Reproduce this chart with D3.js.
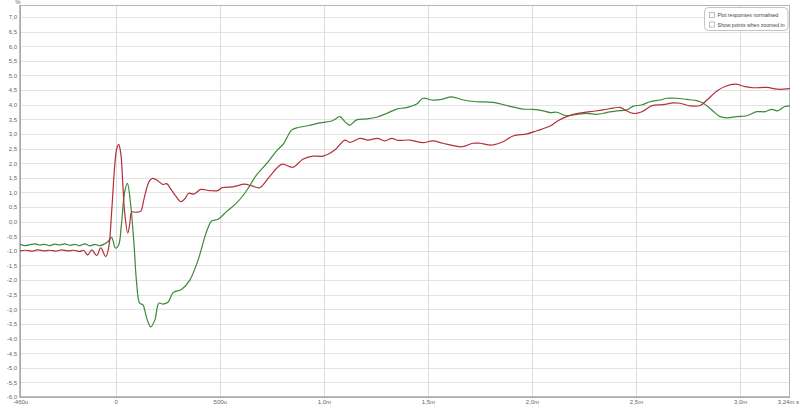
<!DOCTYPE html>
<html><head><meta charset="utf-8">
<script src="https://cdn.jsdelivr.net/npm/d3@7"></script>
<style>
html,body{margin:0;padding:0;background:#fff;}
svg{display:block;font-family:"Liberation Sans",Arial,sans-serif;}
</style></head><body>
<svg id="c" width="800" height="408"></svg>
<script>
// time in microseconds, values in %
const redT = [-460,-433,-404,-375,-346,-317,-288,-260,-231,-202,-173,-154,-135,-115,-91,-72,-48,-34,-19,-5,5,14,24,34,43,58,67,77,96,120,135,149,163,178,202,226,245,264,288,313,332,351,375,409,452,490,510,563,620,654,692,740,798,851,899,947,995,1053,1101,1125,1173,1212,1260,1293,1327,1356,1414,1476,1524,1572,1664,1716,1750,1808,1861,1909,1976,2024,2087,2125,2173,2221,2279,2341,2390,2423,2447,2486,2529,2577,2630,2678,2712,2760,2808,2841,2889,2928,2976,3024,3063,3130,3178,3226,3240];
const redV = [-1.00,-0.98,-1.01,-0.97,-1.00,-0.98,-1.01,-0.97,-1.00,-0.98,-1.02,-0.99,-1.14,-0.97,-1.16,-0.90,-1.20,-0.90,0.40,1.90,2.50,2.64,2.35,1.30,0.30,-0.39,-0.10,0.33,0.32,0.36,0.75,1.15,1.40,1.48,1.40,1.27,1.30,1.12,0.88,0.68,0.78,0.97,0.94,1.10,1.06,1.06,1.16,1.19,1.28,1.22,1.16,1.55,1.96,1.86,2.13,2.24,2.24,2.45,2.79,2.71,2.85,2.79,2.85,2.76,2.85,2.78,2.79,2.70,2.76,2.68,2.56,2.68,2.68,2.62,2.73,2.93,3.00,3.11,3.27,3.45,3.61,3.70,3.76,3.82,3.88,3.91,3.82,3.70,3.76,3.97,4.00,4.06,4.05,3.96,3.97,4.16,4.47,4.62,4.70,4.62,4.58,4.59,4.53,4.54,4.56];

const greenT = [-460,-437,-413,-389,-365,-341,-317,-293,-269,-245,-221,-197,-173,-149,-125,-101,-77,-58,-38,-20,-1,14,27,43,56,72,88,100,115,131,139,152,168,188,207,227,251,276,316,356,396,428,443,460,492,532,580,620,639,676,725,773,808,845,877,925,981,1037,1053,1077,1101,1125,1157,1205,1253,1302,1350,1398,1446,1477,1518,1566,1614,1670,1734,1814,1886,1958,2006,2054,2087,2119,2167,2215,2263,2311,2359,2407,2455,2487,2527,2568,2616,2648,2696,2744,2792,2824,2864,2904,2936,2984,3032,3080,3120,3152,3180,3212,3240];
const greenV = [-0.78,-0.82,-0.79,-0.76,-0.80,-0.78,-0.82,-0.77,-0.80,-0.76,-0.81,-0.78,-0.82,-0.76,-0.83,-0.78,-0.82,-0.78,-0.69,-0.54,-0.91,-0.80,-0.12,1.02,1.31,0.57,-0.80,-2.06,-2.79,-2.85,-3.02,-3.37,-3.60,-3.37,-2.79,-2.82,-2.76,-2.43,-2.32,-2.00,-1.31,-0.52,-0.22,0.02,0.08,0.34,0.63,0.97,1.17,1.59,1.98,2.42,2.68,3.13,3.22,3.28,3.38,3.44,3.50,3.59,3.42,3.30,3.48,3.51,3.57,3.70,3.85,3.90,4.02,4.22,4.16,4.18,4.27,4.16,4.10,4.08,3.96,3.85,3.84,3.79,3.73,3.74,3.62,3.67,3.70,3.67,3.73,3.79,3.82,3.95,3.99,4.10,4.16,4.22,4.22,4.18,4.14,4.05,3.82,3.59,3.55,3.59,3.62,3.76,3.76,3.84,3.79,3.93,3.96];

const yTicks = [-6,-5.5,-5,-4.5,-4,-3.5,-3,-2.5,-2,-1.5,-1,-0.5,0,0.5,1,1.5,2,2.5,3,3.5,4,4.5,5,5.5,6,6.5,7];
const xTicks = [-460,0,500,1000,1500,2000,2500,3000,3240];
const xTickLabels = ["-460u","0","500u","1,0m","1,5m","2,0m","2,5m","3,0m","3,24m s"];
const xGrid = [0,500,1000,1500,2000,2500,3000];
const legendItems = ["Plot responses normalised","Show points when zoomed in"];

const svg = d3.select("#c");
const L=20, R=790, T=5, B=397;
const x = d3.scaleLinear().domain([-460,3240]).range([L,R]);
const y = d3.scaleLinear().domain([-6,7.41]).range([B,T]);

// grid
const g = svg.append("g");
g.selectAll("line.h").data(yTicks).join("line")
  .attr("x1",L).attr("x2",R).attr("y1",d=>Math.round(y(d))+0.5).attr("y2",d=>Math.round(y(d))+0.5)
  .attr("stroke","#e3e3e3").attr("stroke-width",1);
g.selectAll("line.v").data(xGrid).join("line")
  .attr("y1",T).attr("y2",B).attr("x1",d=>Math.round(x(d))+0.5).attr("x2",d=>Math.round(x(d))+0.5)
  .attr("stroke","#dcdcdc").attr("stroke-width",1);

// frame
svg.append("rect").attr("x",L+0.5).attr("y",T+0.5).attr("width",R-L-1).attr("height",B-T)
  .attr("fill","none").attr("stroke","#b5b5b5").attr("stroke-width",1);
svg.append("line").attr("x1",L).attr("x2",L).attr("y1",T).attr("y2",B+1).attr("stroke","#a8a8a8").attr("stroke-width",1.5);
svg.append("line").attr("x1",L).attr("x2",R).attr("y1",B).attr("y2",B).attr("stroke","#a8a8a8").attr("stroke-width",1.5);

// y axis labels
const fmt = d => d3.format(".1f")(d).replace(".",",").replace("−","-");
const ya = d3.axisLeft(y).tickValues(yTicks).tickFormat(fmt).tickSize(0).tickPadding(3);
const yg = svg.append("g").attr("transform",`translate(${L},0)`).call(ya);
yg.select(".domain").remove();
yg.selectAll("text").attr("font-size",6).attr("fill","#666").attr("font-family","Liberation Sans, Arial, sans-serif");

// x axis labels
const xa = d3.axisBottom(x).tickValues(xTicks).tickFormat((d,i)=>xTickLabels[i]).tickSize(0).tickPadding(3);
const xg = svg.append("g").attr("transform",`translate(0,${B})`).call(xa);
xg.select(".domain").remove();
xg.selectAll("text").attr("font-size",6).attr("fill","#666").attr("font-family","Liberation Sans, Arial, sans-serif")
  .attr("text-anchor",(d,i)=> i===xTicks.length-1 ? "end" : "middle")
  .attr("dx",(d,i)=> i===xTicks.length-1 ? 8.5 : 0);

svg.append("text").attr("x",L-2).attr("y",4).attr("font-size",6).attr("fill","#666").attr("text-anchor","middle").text("%");

// lines
const clip = svg.append("clipPath").attr("id","pc").append("rect").attr("x",L).attr("y",T).attr("width",R-L).attr("height",B-T);
const line = d3.line().x(d=>x(d[0])).y(d=>y(d[1])).curve(d3.curveCatmullRom.alpha(0.5));
const redData = redT.map((t,i)=>[t,redV[i]]);
const greenData = greenT.map((t,i)=>[t,greenV[i]]);
svg.append("path").datum(greenData).attr("d",line).attr("fill","none").attr("stroke","#3a8a35").attr("stroke-width",1.2).attr("clip-path","url(#pc)");
svg.append("path").datum(redData).attr("d",line).attr("fill","none").attr("stroke","#b3303a").attr("stroke-width",1.2).attr("clip-path","url(#pc)");

// legend
const lg = svg.append("g");
lg.append("rect").attr("x",704.5).attr("y",7.5).attr("width",83.5).attr("height",23).attr("rx",4)
  .attr("fill","#fff").attr("stroke","#c4c4c4");
legendItems.forEach((s,i)=>{
  const yy = 12.5 + i*9.5;
  lg.append("rect").attr("x",709.5).attr("y",yy).attr("width",5).attr("height",5)
    .attr("fill","#fff").attr("stroke","#b0b0b0").attr("stroke-width",0.8);
  lg.append("text").attr("x",717.5).attr("y",yy+4.6).attr("font-size",5).attr("fill","#444")
    .attr("textLength", i===0 ? 61 : 67).attr("lengthAdjust","spacingAndGlyphs").text(s);
});
</script>
</body></html>
